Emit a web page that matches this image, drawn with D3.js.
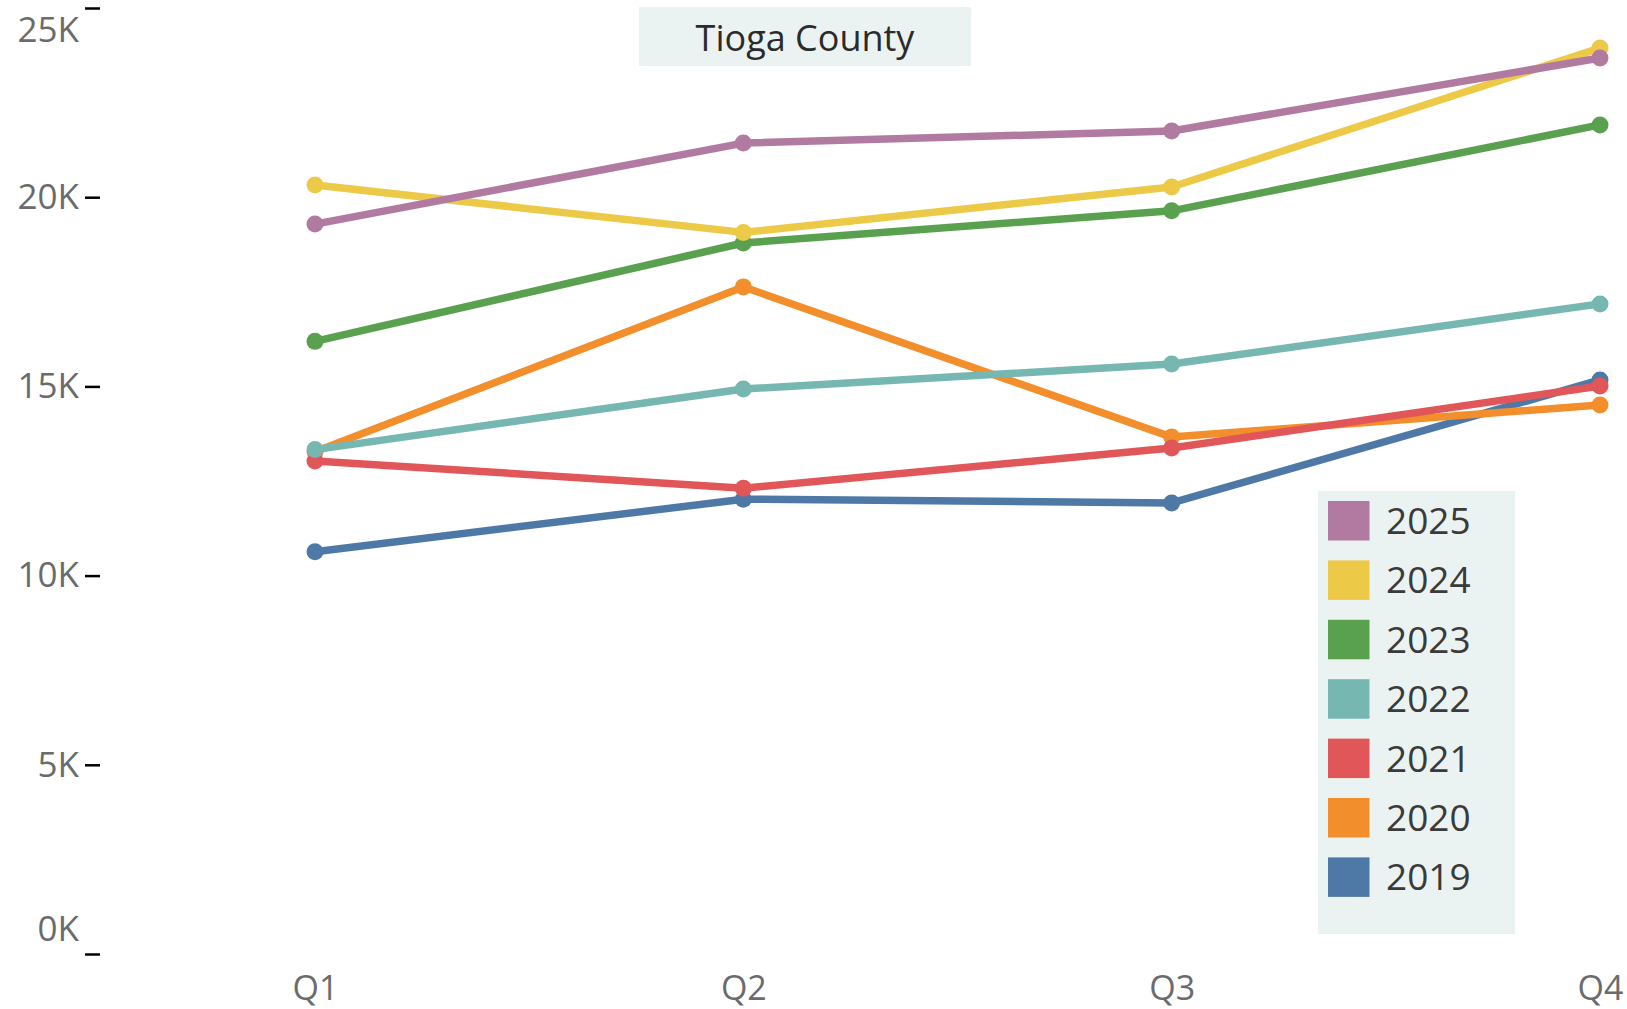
<!DOCTYPE html>
<html lang="en">
<head>
<meta charset="UTF-8">
<title>Tioga County</title>
<script src="https://cdn.jsdelivr.net/npm/d3@7"></script>
<style>
body {
    margin: 0;
    background: #fff;
}
svg text {
    font-family: "Open Sans", sans-serif;
}
</style>
</head>
<body>
<div id="chart"></div>
<script>
// chart values, in thousands
const quarters = ["Q1", "Q2", "Q3", "Q4"];
const years = ["2019", "2020", "2021", "2022", "2023", "2024", "2025"];
const legendYears = ["2025", "2024", "2023", "2022", "2021", "2020", "2019"];
const yearColors = ["#4e79a7", "#f28e2b", "#e15759", "#76b7b2", "#59a14f", "#edc948", "#b07aa1"];

const v2019 = [10.63, 12.02, 11.92, 15.17];
const v2020 = [13.27, 17.63, 13.66, 14.51];
const v2021 = [13.03, 12.31, 13.37, 15.01];
const v2022 = [13.33, 14.93, 15.59, 17.18];
const v2023 = [16.19, 18.79, 19.64, 21.91];
const v2024 = [20.32, 19.07, 20.27, 23.94];
const v2025 = [19.29, 21.43, 21.75, 23.68];

const yTicks = [0, 5, 10, 15, 20, 25];
const titleText = "Tioga County";

const seriesValues = [v2019, v2020, v2021, v2022, v2023, v2024, v2025];

const WIDTH = 1627;
const HEIGHT = 1009;
const LINE_WIDTH = 7.5;
const DOT_R = 8.5;
const PANEL_BG = "#ebf3f2";

const color = d3.scaleOrdinal().domain(years).range(yearColors);

const x = d3.scalePoint()
    .domain(quarters)
    .range([315, 1600]);

const y = d3.scaleLinear()
    .domain([0, 25])
    .range([954, 8]);

const svg = d3.select("#chart")
    .append("svg")
    .attr("width", WIDTH)
    .attr("height", HEIGHT);

// title box
const titleG = svg.append("g");
titleG.append("rect")
    .attr("x", 639)
    .attr("y", 7)
    .attr("width", 332)
    .attr("height", 59)
    .attr("fill", PANEL_BG);
titleG.append("text")
    .attr("x", 805)
    .attr("y", 38)
    .attr("dy", "0.35em")
    .attr("text-anchor", "middle")
    .attr("fill", "#2b2b2b")
    .style("font-size", "36px")
    .text(titleText);

// y axis: tick marks and labels only
const yAxis = svg.append("g")
    .attr("transform", "translate(100,0)")
    .call(d3.axisLeft(y)
        .tickValues(yTicks)
        .tickSize(15)
        .tickPadding(6)
        .tickFormat(d => d + "K"));
yAxis.select(".domain").remove();
yAxis.selectAll(".tick line")
    .attr("stroke", "#000")
    .attr("stroke-width", 2.5);
yAxis.selectAll(".tick text")
    .attr("fill", "#6b6b6b")
    .style("font-size", "35px")
    .attr("dy", d => d == 25 ? "0.95em" : d == 0 ? "-0.4em" : "0.32em");

// x axis: labels only
const xAxis = svg.append("g")
    .attr("transform", "translate(0,988)")
    .call(d3.axisBottom(x).tickSize(0).tickPadding(0));
xAxis.select(".domain").remove();
xAxis.selectAll(".tick text")
    .attr("y", 0)
    .attr("dy", "0.35em")
    .attr("fill", "#6b6b6b")
    .style("font-size", "34px");

// legend panel
const legend = svg.append("g");
legend.append("rect")
    .attr("x", 1318)
    .attr("y", 491)
    .attr("width", 197)
    .attr("height", 443)
    .attr("fill", PANEL_BG);
const legendRow = d3.scaleBand()
    .domain(legendYears)
    .range([501, 501 + 59.4 * 7]);
const items = legend.selectAll("g.item")
    .data(legendYears)
    .join("g")
    .attr("class", "item")
    .attr("transform", d => `translate(1328,${legendRow(d)})`);
items.append("rect")
    .attr("width", 41.5)
    .attr("height", 39.5)
    .attr("fill", d => color(d));
items.append("text")
    .attr("x", 58)
    .attr("y", 20)
    .attr("dy", "0.35em")
    .attr("fill", "#3a3a3a")
    .style("font-size", "37px")
    .text(d => d);

// lines and dots, older years first so newer sit on top
const line = d3.line()
    .x((d, i) => x(quarters[i]))
    .y(d => y(d));

years.forEach((yr, k) => {
    const vals = seriesValues[k];
    const g = svg.append("g");
    g.append("path")
        .datum(vals)
        .attr("d", line)
        .attr("fill", "none")
        .attr("stroke", color(yr))
        .attr("stroke-width", LINE_WIDTH)
        .attr("stroke-linejoin", "round");
    g.selectAll("circle")
        .data(vals)
        .join("circle")
        .attr("cx", (d, i) => x(quarters[i]))
        .attr("cy", d => y(d))
        .attr("r", DOT_R)
        .attr("fill", color(yr));
});
</script>
</body>
</html>
